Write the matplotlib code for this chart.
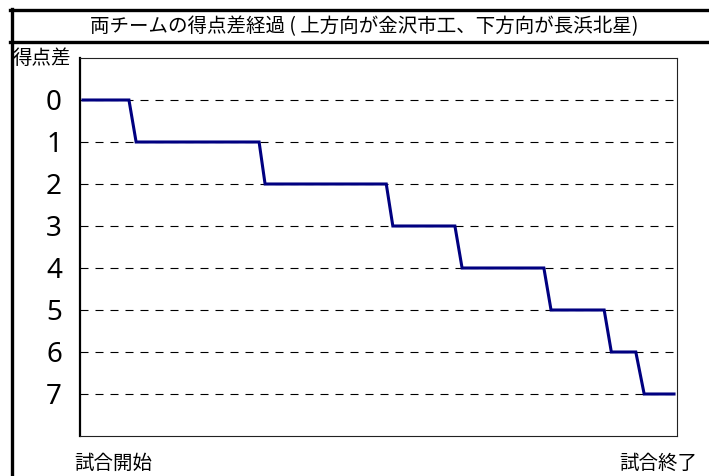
import matplotlib
matplotlib.use("Agg")
import matplotlib.pyplot as plt
from matplotlib.lines import Line2D

plt.rcParams['font.family'] = ['Noto Sans CJK JP', 'DejaVu Sans']

# game progress (0-100) and score difference
progress = [0.5, 8.2, 9.4, 30.0, 31.0, 51.3, 52.4, 62.8, 64.0, 77.7, 78.9, 87.8, 89.0, 93.1, 94.5, 99.5]
score_diff = [0, 0, 1, 1, 2, 2, 3, 3, 4, 4, 5, 5, 6, 6, 7, 7]
y_ticks = [0, 1, 2, 3, 4, 5, 6, 7]
y_labels = ["0", "1", "2", "3", "4", "5", "6", "7"]

title = "両チームの得点差経過 ( 上方向が金沢市工、下方向が長浜北星)"
y_title = "得点差"
start_label = "試合開始"
end_label = "試合終了"

W, H = 709, 476
fig = plt.figure(figsize=(W / 100, H / 100), dpi=100)

def fx(px):
    return px / W

def fy(py):
    return 1 - py / H

# frame lines
fig.add_artist(Line2D([fx(10), fx(709)], [fy(9.5), fy(9.5)], color='black', lw=2.4))
fig.add_artist(Line2D([fx(10), fx(709)], [fy(41.5), fy(41.5)], color='black', lw=2.4))
fig.add_artist(Line2D([fx(11.5), fx(11.5)], [fy(8.5), fy(476)], color='black', lw=2.4))

fig.text(fx(364), fy(26.5), title, ha='center', va='center', fontsize=14)
fig.text(fx(13), fy(58), y_title, ha='left', va='center', fontsize=14)
fig.text(fx(113), fy(463), start_label, ha='center', va='center', fontsize=14)
fig.text(fx(658), fy(463), end_label, ha='center', va='center', fontsize=14)

ax = fig.add_axes([fx(80), fy(436), fx(677) - fx(80), fy(58) - fy(436)])
ax.set_xlim(0, 100)
ax.set_ylim(8, -1)

for y in y_ticks:
    ax.axhline(y, color='black', lw=0.8, ls=(0, (7.2, 6.3)), zorder=1)

ax.plot(progress, score_diff, color='#000080', lw=2.2, zorder=3, solid_joinstyle='miter')

ax.set_yticks(y_ticks)
ax.set_yticklabels(y_labels, fontsize=20, family=['Noto Sans', 'DejaVu Sans'])
ax.tick_params(axis='y', length=0, pad=13)
ax.set_xticks([])

for side in ['top', 'right', 'bottom']:
    ax.spines[side].set_linewidth(0.8)
    ax.spines[side].set_color('#222222')
ax.spines['left'].set_linewidth(1.6)
ax.spines['left'].set_color('black')

fig.savefig("out.png", dpi=100)
